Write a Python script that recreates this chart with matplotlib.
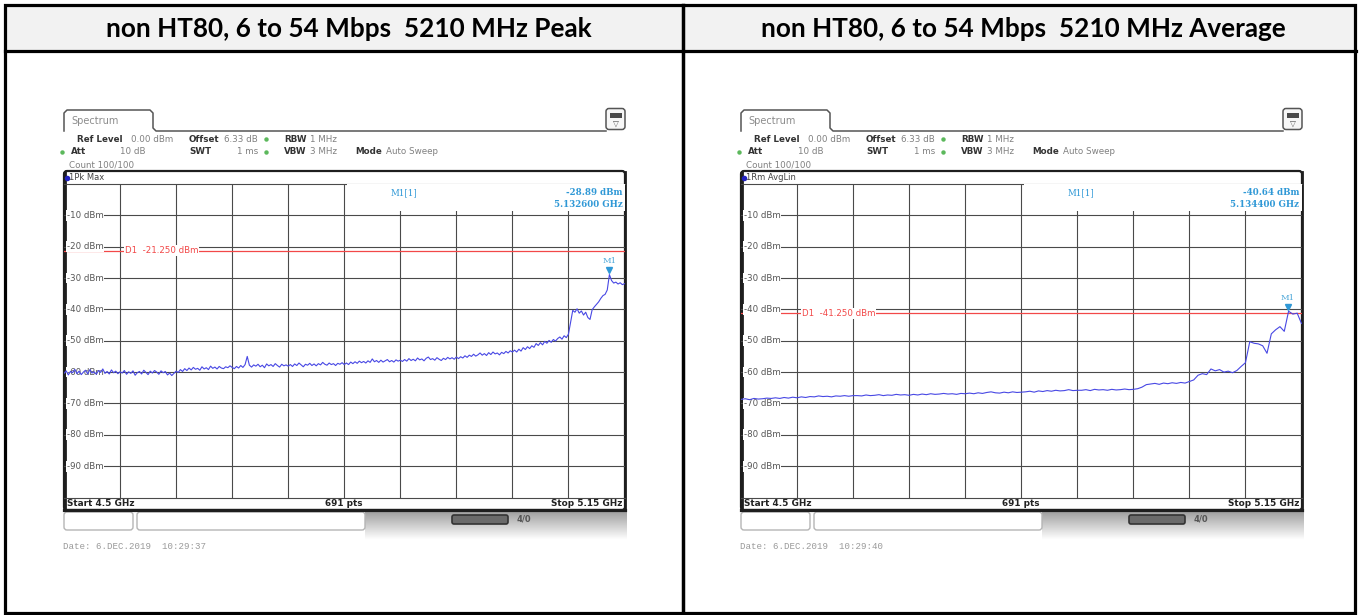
import numpy as np
import matplotlib
matplotlib.use("Agg")
import matplotlib.pyplot as plt
from matplotlib.patches import FancyBboxPatch, Rectangle

# ---------------- data ----------------
titles = ["non HT80, 6 to 54 Mbps  5210 MHz Peak",
          "non HT80, 6 to 54 Mbps  5210 MHz Average"]
trace_labels = ["1Pk Max", "1Rm AvgLin"]
start_ghz = 4.5
stop_ghz = 5.15
points_label = "691 pts"
level_ticks = [-10, -20, -30, -40, -50, -60, -70, -80, -90]
marker_freq_ghz = [5.132600, 5.134400]
marker_level_dbm = [-28.89, -40.64]
d1_level_dbm = [-21.250, -41.250]
date_stamps = ["Date: 6.DEC.2019  10:29:37", "Date: 6.DEC.2019  10:29:40"]

peak_dbm = [
    -60.4, -59.6, -60.9, -59.8, -60.2, -59.1, -60.5, -59.7, -60.8, -60.0, -59.4, -60.6, -59.2, -60.3,
    -59.9, -60.7, -59.5, -60.1, -59.0, -60.4, -59.8, -60.6, -59.3, -60.2, -59.7, -60.5, -59.9,
    -60.3, -59.5, -60.7, -59.9, -60.4, -59.6, -61.0, -60.2, -59.8, -60.6, -59.4, -60.1, -60.8,
    -59.7, -60.3, -59.5, -60.0, -60.7, -59.6, -60.2, -59.8, -60.9, -60.3, -61.1, -60.4, -59.7,
    -60.1, -59.2, -59.8, -58.9, -59.5, -58.7, -59.3, -58.5, -59.1, -58.8, -59.4, -58.3, -59.0,
    -58.6, -59.2, -58.1, -58.8, -58.4, -59.0, -58.2, -58.7, -58.9, -58.3, -58.6, -58.0, -58.5,
    -58.9, -58.2, -58.7, -57.9, -58.5, -57.6, -55.0, -57.8, -58.4, -57.7, -58.1, -57.5, -58.3,
    -57.8, -58.6, -57.4, -58.0, -57.6, -58.2, -57.3, -57.9, -58.4, -57.5, -58.0, -57.7, -58.1,
    -57.6, -58.2, -57.4, -57.9, -57.1, -57.7, -58.3, -57.5, -57.8, -57.2, -57.9, -57.4, -58.0,
    -57.3, -57.7, -56.9, -57.5, -57.8, -57.1, -57.6, -57.3, -57.9, -57.2, -57.5, -57.0, -57.6,
    -57.1, -57.6, -56.8, -57.3, -56.7, -57.2, -56.5, -57.0, -56.6, -57.1, -56.4, -56.9, -55.8,
    -56.7, -56.3, -56.9, -56.2, -56.8, -56.4, -56.0, -56.7, -56.3, -56.8, -56.1, -56.5, -56.2,
    -56.6, -56.0, -56.5, -55.7, -56.3, -55.9, -56.4, -55.5, -56.1, -55.8, -56.4, -55.6, -55.2,
    -56.0, -55.7, -56.2, -55.4, -55.9, -56.3, -55.6, -56.0, -55.3, -55.8, -55.4, -55.9, -55.2,
    -55.7, -55.1, -55.5, -54.8, -55.3, -54.6, -55.0, -54.3, -54.9, -54.5, -53.9, -54.6, -54.1,
    -54.7, -53.8, -54.4, -53.6, -54.2, -53.9, -54.5, -53.7, -54.1, -53.4, -53.9, -53.2, -53.6,
    -53.0, -53.6, -52.7, -53.3, -52.2, -52.8, -51.9, -52.5, -51.6, -52.1, -50.9, -51.5, -50.6,
    -51.3, -50.2, -50.8, -49.9, -50.5, -49.6, -50.1, -49.3, -48.8, -49.5, -48.4, -49.0, -47.9,
    -44.0, -40.3, -40.9, -39.8, -41.2, -40.5, -41.8, -40.9, -42.6, -43.2, -40.1, -39.2, -38.4,
    -37.6, -36.5, -35.6, -35.2, -33.8, -28.9, -30.8, -31.6, -31.3, -31.9, -31.5, -32.1, -31.8,
]
avg_dbm = [
    -68.7, -68.5, -68.8, -68.4, -68.6, -68.5, -68.3, -68.4, -68.2, -68.4, -68.1, -68.3, -68.0, -68.2,
    -67.9, -68.1, -67.8, -67.9, -67.6, -67.8, -67.7, -67.9, -67.6, -67.7, -67.5, -67.7, -67.5,
    -67.5, -67.6, -67.3, -67.5, -67.4, -67.2, -67.5, -67.3, -67.4, -67.1, -67.3, -67.2, -67.4,
    -67.1, -67.3, -67.0, -67.2, -66.9, -67.1, -67.0, -66.8, -67.0, -66.9, -67.1, -66.8, -66.9,
    -66.7, -66.9, -66.6, -66.8, -66.5, -66.3, -66.6, -66.7, -66.4, -66.6, -66.3, -66.5, -66.4,
    -66.3, -66.1, -66.4, -66.0, -66.2, -65.9, -66.1, -65.8, -66.0, -65.9, -65.6, -65.9, -65.8,
    -65.8, -65.6, -65.9, -65.5, -65.7, -65.6, -65.8, -65.5, -65.7, -65.6, -65.4, -65.6, -65.5,
    -65.3, -64.8, -64.0, -63.8, -63.6, -63.9, -63.5, -63.7, -63.4, -63.6, -63.3, -63.5, -63.0,
    -62.5, -61.0, -60.5, -60.8, -59.0, -59.6, -59.2, -60.0, -59.7, -60.2, -59.5, -58.2, -57.0,
    -50.3, -50.8, -51.0, -51.6, -54.0, -47.8, -46.5, -45.5, -47.0, -40.6, -41.5, -41.2, -44.5,
]
traces = [peak_dbm, avg_dbm]

settings_rows = [
    [("Ref Level", True), ("0.00 dBm", False), ("Offset", True), ("6.33 dB", False),
     ("RBW", True), ("1 MHz", False)],
    [("Att", True), ("10 dB", False), ("SWT", True), ("1 ms", False),
     ("VBW", True), ("3 MHz", False), ("Mode", True), ("Auto Sweep", False)],
    [("Count 100/100", False)],
]
settings_x = [
    [(77, "left"), (131, "left"), (189, "left"), (224, "left"), (284, "left"), (310, "left")],
    [(71, "left"), (146, "right"), (189, "left"), (258, "right"), (284, "left"), (310, "left"),
     (355, "left"), (386, "left")],
    [(69, "left")],
]
settings_y = [139, 152, 165]
green_dots = [(266, 139), (62, 152), (266, 152)]

# ---------------- style ----------------
W, H = 1360, 615
TRACE_C = "#4848e4"
MARK_C = "#2f98d6"
RED_C = "#f24848"
GRID_C = "#4a4a4a"

fig = plt.figure(figsize=(W / 100, H / 100), dpi=100)
bg = fig.add_axes([0, 0, 1, 1])
bg.set_xlim(0, W)
bg.set_ylim(H, 0)
bg.axis("off")

# ---- table ----
bg.add_patch(Rectangle((4.5, 5), W - 9, 46, fc="#f2f2f2", ec="none", zorder=0))
bg.add_patch(Rectangle((4.5, 5), W - 9.5, 608, fc="none", ec="black", lw=2.3, zorder=10))
bg.plot([4.5, W - 4.5], [51, 51], color="black", lw=2.3, zorder=10)
bg.plot([682.5, 682.5], [5, 613], color="black", lw=2.5, zorder=10)
for cx, t in zip([349, 1023], titles):
    bg.text(cx, 29, t, ha="center", va="center", fontsize=18.8, fontweight="bold",
            family="Lato", color="black")


def px_rect(x0, y0, x1, y1):
    return [x0 / W, 1 - y1 / H, (x1 - x0) / W, (y1 - y0) / H]


for p, ox in enumerate([0, 677]):
    # Spectrum tab + header line
    tab_x = [64 + ox, 64 + ox, 67 + ox, 150 + ox, 153 + ox, 153 + ox, 156 + ox, 606 + ox]
    tab_y = [131, 113, 110, 110, 113, 128, 131, 131]
    bg.plot(tab_x, tab_y, color="#555555", lw=1.1, zorder=2)
    bg.text(71 + ox, 120.5, "Spectrum", fontsize=7, color="#8c8c8c", va="center",
            family="DejaVu Sans")
    # icon
    bg.add_patch(FancyBboxPatch((606 + ox, 108.5), 19, 21, boxstyle="round,pad=0,rounding_size=3",
                                fc="#f7f7f7", ec="#555555", lw=1.1, zorder=2))
    bg.add_patch(Rectangle((609.5 + ox, 112.5), 12, 5, fc="#4a4a4a", ec="none", zorder=3))
    bg.text(615.5 + ox, 123, "\u25bd", fontsize=5.5, ha="center", va="center", color="#555555",
            zorder=3)
    # settings text
    for row, xs, yy in zip(settings_rows, settings_x, settings_y):
        for (txt, bold), (xx, ha) in zip(row, xs):
            bg.text(xx + ox, yy, txt, fontsize=6.3, ha=ha, va="center",
                    fontweight="bold" if bold else "normal",
                    color="#333333" if bold else "#808080", family="DejaVu Sans")
    for gx, gy in green_dots:
        bg.plot(gx + ox, gy, "o", ms=3.2, color="#5cb85c", mec="none", zorder=3)

    # screen frame
    bg.add_patch(FancyBboxPatch((64 + ox, 171), 561, 339, boxstyle="round,pad=0,rounding_size=3",
                                fc="white", ec="#1e1e1e", lw=1.6, zorder=1))
    bg.plot([64 + ox, 625 + ox], [509.5, 509.5], color="#1e1e1e", lw=2.3, zorder=3)
    bg.plot([64.5 + ox, 64.5 + ox], [172, 510], color="#1e1e1e", lw=2.0, zorder=3)
    bg.plot([624.8 + ox, 624.8 + ox], [172, 510], color="#1e1e1e", lw=2.0, zorder=3)
    bg.plot(66.5 + ox, 177.5, "o", ms=4, color="#2323c0", mec="none", zorder=3)
    bg.text(69 + ox, 177.5, trace_labels[p], fontsize=6, va="center", color="#444444",
            family="DejaVu Sans", zorder=3)
    # bottom bar text
    bg.text(67 + ox, 503.5, f"Start {start_ghz:g} GHz", fontsize=6.4, fontweight="bold",
            va="center", color="#222222", family="DejaVu Sans", zorder=3)
    bg.text(344 + ox, 503.5, points_label, fontsize=6.4, fontweight="bold", ha="center",
            va="center", color="#222222", family="DejaVu Sans", zorder=3)
    bg.text(622 + ox, 503.5, f"Stop {stop_ghz:g} GHz", fontsize=6.4, fontweight="bold",
            ha="right", va="center", color="#222222", family="DejaVu Sans", zorder=3)

    # status row
    grad = np.linspace(0.62, 1.0, 40).reshape(-1, 1)
    bg.imshow(grad, cmap="gray", vmin=0, vmax=1, aspect="auto",
              extent=(365 + ox, 627 + ox, 540, 511), zorder=0.5)
    for (bx0, bx1) in [(64, 133), (137, 365)]:
        bg.add_patch(FancyBboxPatch((bx0 + ox, 512), bx1 - bx0, 18,
                                    boxstyle="round,pad=0,rounding_size=3",
                                    fc="white", ec="#b5b5b5", lw=1.0, zorder=2))
    bg.add_patch(FancyBboxPatch((452 + ox, 515), 56, 9, boxstyle="round,pad=0,rounding_size=2",
                                fc="#6a6a6a", ec="#333333", lw=1.2, zorder=2))
    bg.text(517 + ox, 519.5, "4/0", fontsize=6, fontweight="bold", va="center",
            color="#555555", zorder=3)
    bg.text(63 + ox, 546.5, date_stamps[p], fontsize=6.6, va="center", color="#9a9a9a",
            family="Liberation Mono")

    # ---- data axes ----
    ax = fig.add_axes(px_rect(64 + ox, 184, 624.5 + ox, 497.5))
    ax.set_facecolor("none")
    ax.set_xlim(start_ghz, stop_ghz)
    ax.set_ylim(-100, 0)
    div = (stop_ghz - start_ghz) / 10
    ax.set_xticks([start_ghz + div * k for k in range(1, 10)])
    ax.set_yticks(level_ticks)
    ax.tick_params(length=0, labelbottom=False, labelleft=False)
    ax.grid(True, color=GRID_C, lw=0.8)
    for s in ["left", "right"]:
        ax.spines[s].set_visible(False)
    for s in ["top", "bottom"]:
        ax.spines[s].set_color(GRID_C)
        ax.spines[s].set_linewidth(0.8)

    ytr = ax.get_yaxis_transform()
    for lv in level_ticks:
        ax.text(0.005, lv, f"{lv} dBm", transform=ytr, fontsize=6.2, va="center", ha="left",
                color="#555555", family="DejaVu Sans", zorder=4,
                bbox=dict(fc="white", ec="none", pad=0.6))
    # display line D1
    ax.axhline(d1_level_dbm[p], color=RED_C, lw=0.9, zorder=3)
    ax.text(0.109, d1_level_dbm[p], f"D1  {d1_level_dbm[p]:.3f} dBm", transform=ytr,
            fontsize=6.2, va="center", ha="left", color=RED_C, family="DejaVu Sans",
            zorder=4, bbox=dict(fc="white", ec="none", pad=0.5))
    # marker info box
    ax.add_patch(Rectangle((0.505, 0.915), 0.495, 0.085, transform=ax.transAxes,
                           fc="white", ec="none", zorder=3))
    ax.text(0.607, 0.972, "M1[1]", transform=ax.transAxes, fontsize=6.2, ha="center",
            va="center", color=MARK_C, family="DejaVu Serif", zorder=4)
    ax.text(0.996, 0.973, f"{marker_level_dbm[p]:.2f} dBm", transform=ax.transAxes,
            fontsize=6.2, ha="right", va="center", color=MARK_C, family="DejaVu Serif",
            fontweight="bold", zorder=4)
    ax.text(0.996, 0.936, f"{marker_freq_ghz[p]:.6f} GHz", transform=ax.transAxes,
            fontsize=6.2, ha="right", va="center", color=MARK_C, family="DejaVu Serif",
            fontweight="bold", zorder=4)

    # trace
    vals = traces[p]
    freqs = np.linspace(start_ghz, stop_ghz, len(vals))
    ax.plot(freqs, vals, color=TRACE_C, lw=0.8, zorder=5)
    # marker M1
    ax.plot(marker_freq_ghz[p], marker_level_dbm[p] + 1.3, marker="v", ms=4.5,
            color=MARK_C, mec=MARK_C, zorder=6)
    ax.text(marker_freq_ghz[p], marker_level_dbm[p] + 3.0, "M1", fontsize=6, ha="center",
            va="bottom", color="#4aa6d8", family="DejaVu Serif", zorder=6)

fig.savefig("out.png", dpi=100)
